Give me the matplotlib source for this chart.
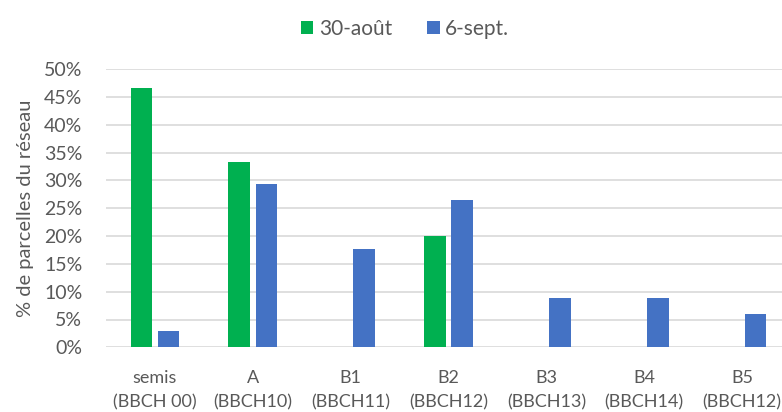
import matplotlib.pyplot as plt
import matplotlib.ticker as mticker
import numpy as np

plt.rcParams['font.family'] = ['Lato', 'DejaVu Sans']

categories = ["semis\n(BBCH 00)", "A\n(BBCH10)", "B1\n(BBCH11)", "B2\n(BBCH12)",
              "B3\n(BBCH13)", "B4\n(BBCH14)", "B5\n(BBCH12)"]
aout_30 = [46.7, 33.3, 0.0, 20.0, 0.0, 0.0, 0.0]
sept_6 = [2.9, 29.4, 17.6, 26.5, 8.8, 8.8, 5.9]
series_names = ["30-août", "6-sept."]
colors = ["#00b050", "#4472c4"]
text_color = "#595959"
grid_color = "#d9d9d9"

fig = plt.figure(figsize=(7.82, 4.12), dpi=100)
ax = fig.add_axes([106 / 782, 64.7 / 412, 685 / 782, 278 / 412])

x = np.arange(len(categories))
w = 0.22
off = 0.139
ax.bar(x - off, np.array(aout_30) / 100, width=w, color=colors[0], label=series_names[0], zorder=3)
ax.bar(x + off, np.array(sept_6) / 100, width=w, color=colors[1], label=series_names[1], zorder=3)

ax.set_xlim(-0.5, len(categories) - 0.5)
ax.set_ylim(0, 0.5)
ax.set_yticks(np.arange(0, 0.51, 0.05))
ax.yaxis.set_major_formatter(mticker.PercentFormatter(1.0, decimals=0))
ax.set_xticks(x)
ax.set_xticklabels(categories, linespacing=1.65)
ax.tick_params(axis='both', length=0, colors=text_color)
ax.tick_params(axis='y', pad=17, labelsize=14)
ax.tick_params(axis='x', pad=16, labelsize=13)
ax.grid(axis='y', color=grid_color, linewidth=1.2, zorder=0)
for s in ax.spines.values():
    s.set_visible(False)

ax.set_ylabel("% de parcelles du réseau", fontsize=14.5, color=text_color, labelpad=7)

fig.legend(loc='upper center', bbox_to_anchor=(405 / 782, 1.0), ncol=2, frameon=False,
           fontsize=15, labelcolor=text_color, handlelength=0.6, handleheight=0.6,
           handletextpad=0.25, columnspacing=1.7)

fig.savefig("out.png", dpi=100)
